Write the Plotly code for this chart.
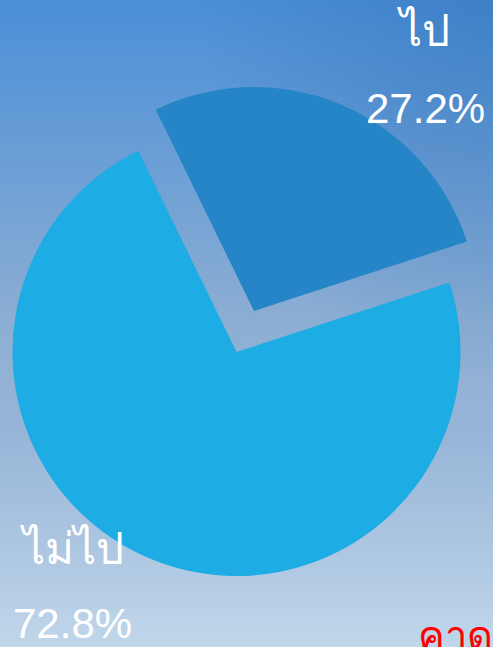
import base64
import plotly.graph_objects as go

# ---- data ----
labels = ["ไป", "ไม่ไป"]
values = [27.2, 72.8]
colors = ["#2585C7", "#1DACE3"]
note_text = "คาดการณ์"

W, H = 493, 647

def px(x):
    return x / W

def py(y):
    return 1 - y / H

# ---- background gradient as an inline SVG image ----
svg = f'''<svg xmlns="http://www.w3.org/2000/svg" width="{W}" height="{H}" viewBox="0 0 {W} {H}" preserveAspectRatio="none">
<defs>
<linearGradient id="g" x1="0" y1="0" x2="0" y2="1">
<stop offset="0" stop-color="#4A8FD8"/>
<stop offset="0.5" stop-color="#8DAED3"/>
<stop offset="0.67" stop-color="#97B5D8"/>
<stop offset="1" stop-color="#C0D6EA"/>
</linearGradient>
<radialGradient id="r" cx="1" cy="0" r="0.6">
<stop offset="0" stop-color="#2E6EB4" stop-opacity="0.45"/>
<stop offset="1" stop-color="#2E6EB4" stop-opacity="0"/>
</radialGradient>
</defs>
<rect width="{W}" height="{H}" fill="url(#g)"/>
<rect width="{W}" height="{H}" fill="url(#r)"/>
</svg>'''
src = "data:image/svg+xml;base64," + base64.b64encode(svg.encode()).decode()

R = 224
big_c = (236.5, 352)
small_c = (254, 311)

def dom(c):
    return dict(x=[px(c[0] - R), px(c[0] + R)], y=[py(c[1] + R), py(c[1] - R)])

fig = go.Figure()
# large slice (non-pulled)
fig.add_trace(go.Pie(
    labels=labels, values=values, sort=False, direction="clockwise", rotation=-26,
    marker=dict(colors=["rgba(0,0,0,0)", colors[1]], line=dict(width=0)),
    textinfo="none", hoverinfo="label+percent", domain=dom(big_c), showlegend=False,
))
# exploded slice
fig.add_trace(go.Pie(
    labels=labels, values=values, sort=False, direction="clockwise", rotation=-26,
    marker=dict(colors=[colors[0], "rgba(0,0,0,0)"], line=dict(width=0)),
    textinfo="none", hoverinfo="label+percent", domain=dom(small_c), showlegend=False,
))

font_thai = dict(family="Liberation Sans, Arial, sans-serif", size=44, color="white")
font_pct = dict(family="Liberation Sans, Arial, sans-serif", size=42, color="white")
total = sum(values)
ann = []
pos = [((423, 31), (425, 108)), ((72, 548), (72, 623))]
for lab, val, (p1, p2) in zip(labels, values, pos):
    ann.append(dict(text=lab, x=px(p1[0]), y=py(p1[1]), xref="paper", yref="paper",
                    showarrow=False, font=font_thai, xanchor="center", yanchor="middle"))
    ann.append(dict(text=f"{val / total * 100:.1f}%", x=px(p2[0]), y=py(p2[1]), xref="paper", yref="paper",
                    showarrow=False, font=font_pct, xanchor="center", yanchor="middle"))
ann.append(dict(text=note_text, x=px(416), y=py(612), xref="paper", yref="paper",
                showarrow=False, font=dict(family="Liberation Sans, Arial, sans-serif", size=40, color="#FF0000"),
                xanchor="left", yanchor="top"))

fig.update_layout(
    width=W, height=H, margin=dict(l=0, r=0, t=0, b=0),
    paper_bgcolor="#8DAED3", plot_bgcolor="rgba(0,0,0,0)",
    images=[dict(source=src, xref="paper", yref="paper", x=0, y=1, sizex=1, sizey=1,
                 xanchor="left", yanchor="top", sizing="stretch", layer="below")],
    annotations=ann,
)
fig.write_html("out.html")
